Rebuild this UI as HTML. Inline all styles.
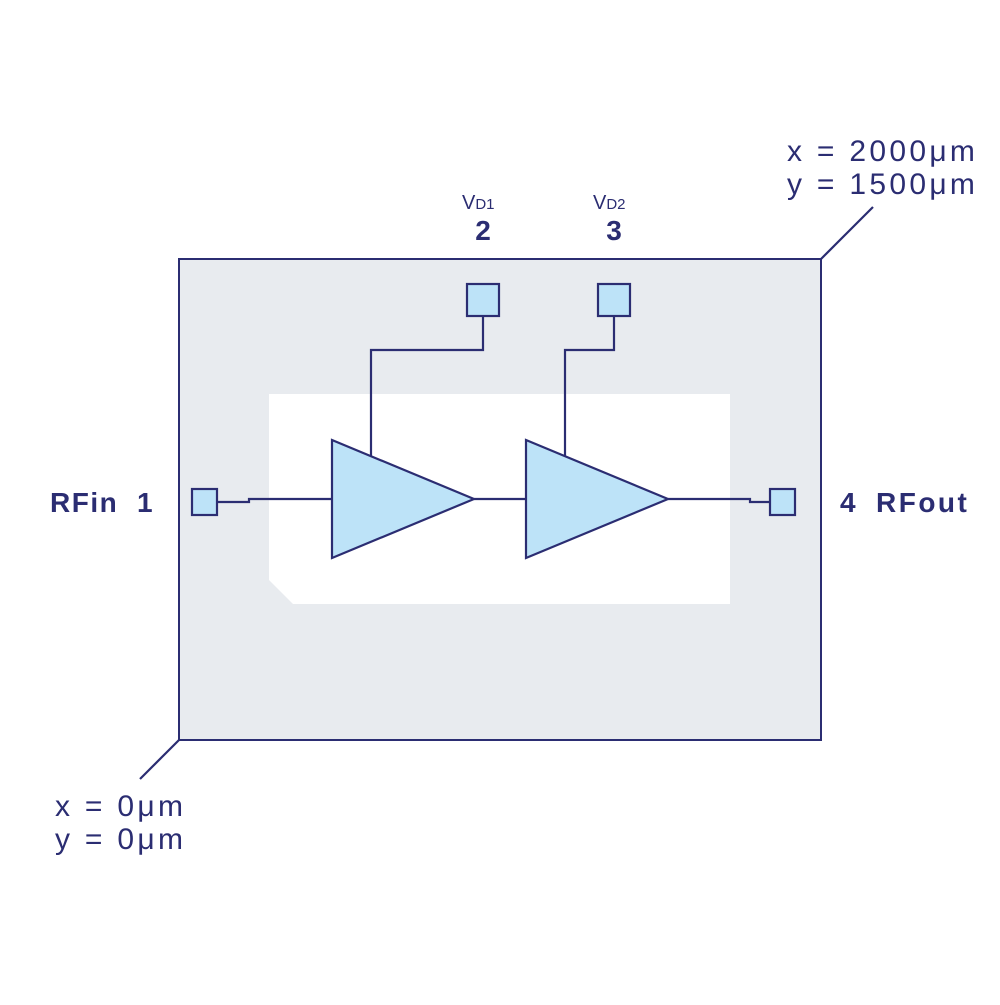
<!DOCTYPE html>
<html><head><style>body{margin:0;background:#fff}</style></head><body>
<svg width="1000" height="1000" viewBox="0 0 1000 1000" xmlns="http://www.w3.org/2000/svg" font-family="Liberation Sans, sans-serif" fill="#2b2d72">
<rect x="179" y="259" width="642" height="481" fill="#e8ebef" stroke="#2b2d72" stroke-width="2"/>
<polygon points="269,394 730,394 730,604 293,604 269,580" fill="#fff"/>
<g stroke="#2b2d72" stroke-width="2.2" fill="none">
<polyline points="483,316 483,350 371,350 371,458"/>
<polyline points="614,316 614,350 565,350 565,458"/>
<polyline points="217,502 249,502 249,499 332,499"/>
<line x1="474" y1="499" x2="526" y2="499"/>
<polyline points="668,499 750,499 750,502 770,502"/>
<line x1="821" y1="259" x2="873" y2="207"/>
<line x1="179" y1="740" x2="140" y2="779"/>
</g>
<g fill="#bde3f8" stroke="#2b2d72" stroke-width="2.2">
<polygon points="332,440 474,499 332,558"/>
<polygon points="526,440 668,499 526,558"/>
<rect x="467" y="284" width="32" height="32"/>
<rect x="598" y="284" width="32" height="32"/>
<rect x="192" y="489" width="25" height="26"/>
<rect x="770" y="489" width="25" height="26"/>
</g>
<g font-size="28">
<text x="50" y="512" font-weight="bold" letter-spacing="1.5">RFin</text>
<text x="137" y="512" font-weight="bold">1</text>
<text x="840" y="512" font-weight="bold">4</text>
<text x="876" y="512" font-weight="bold" letter-spacing="2.5">RFout</text>
<text x="483" y="240" text-anchor="middle" font-weight="bold">2</text>
<text x="614" y="240" text-anchor="middle" font-weight="bold">3</text>
<g font-size="30" letter-spacing="3.3">
<text x="787" y="161">x = 2000μm</text>
<text x="787" y="194">y = 1500μm</text>
<text x="55" y="816">x = 0μm</text>
<text x="55" y="849">y = 0μm</text>
</g>
</g>
<text x="462" y="209" font-size="20">V<tspan font-size="15">D1</tspan></text>
<text x="593" y="209" font-size="20">V<tspan font-size="15">D2</tspan></text>
</svg>
</body></html>
